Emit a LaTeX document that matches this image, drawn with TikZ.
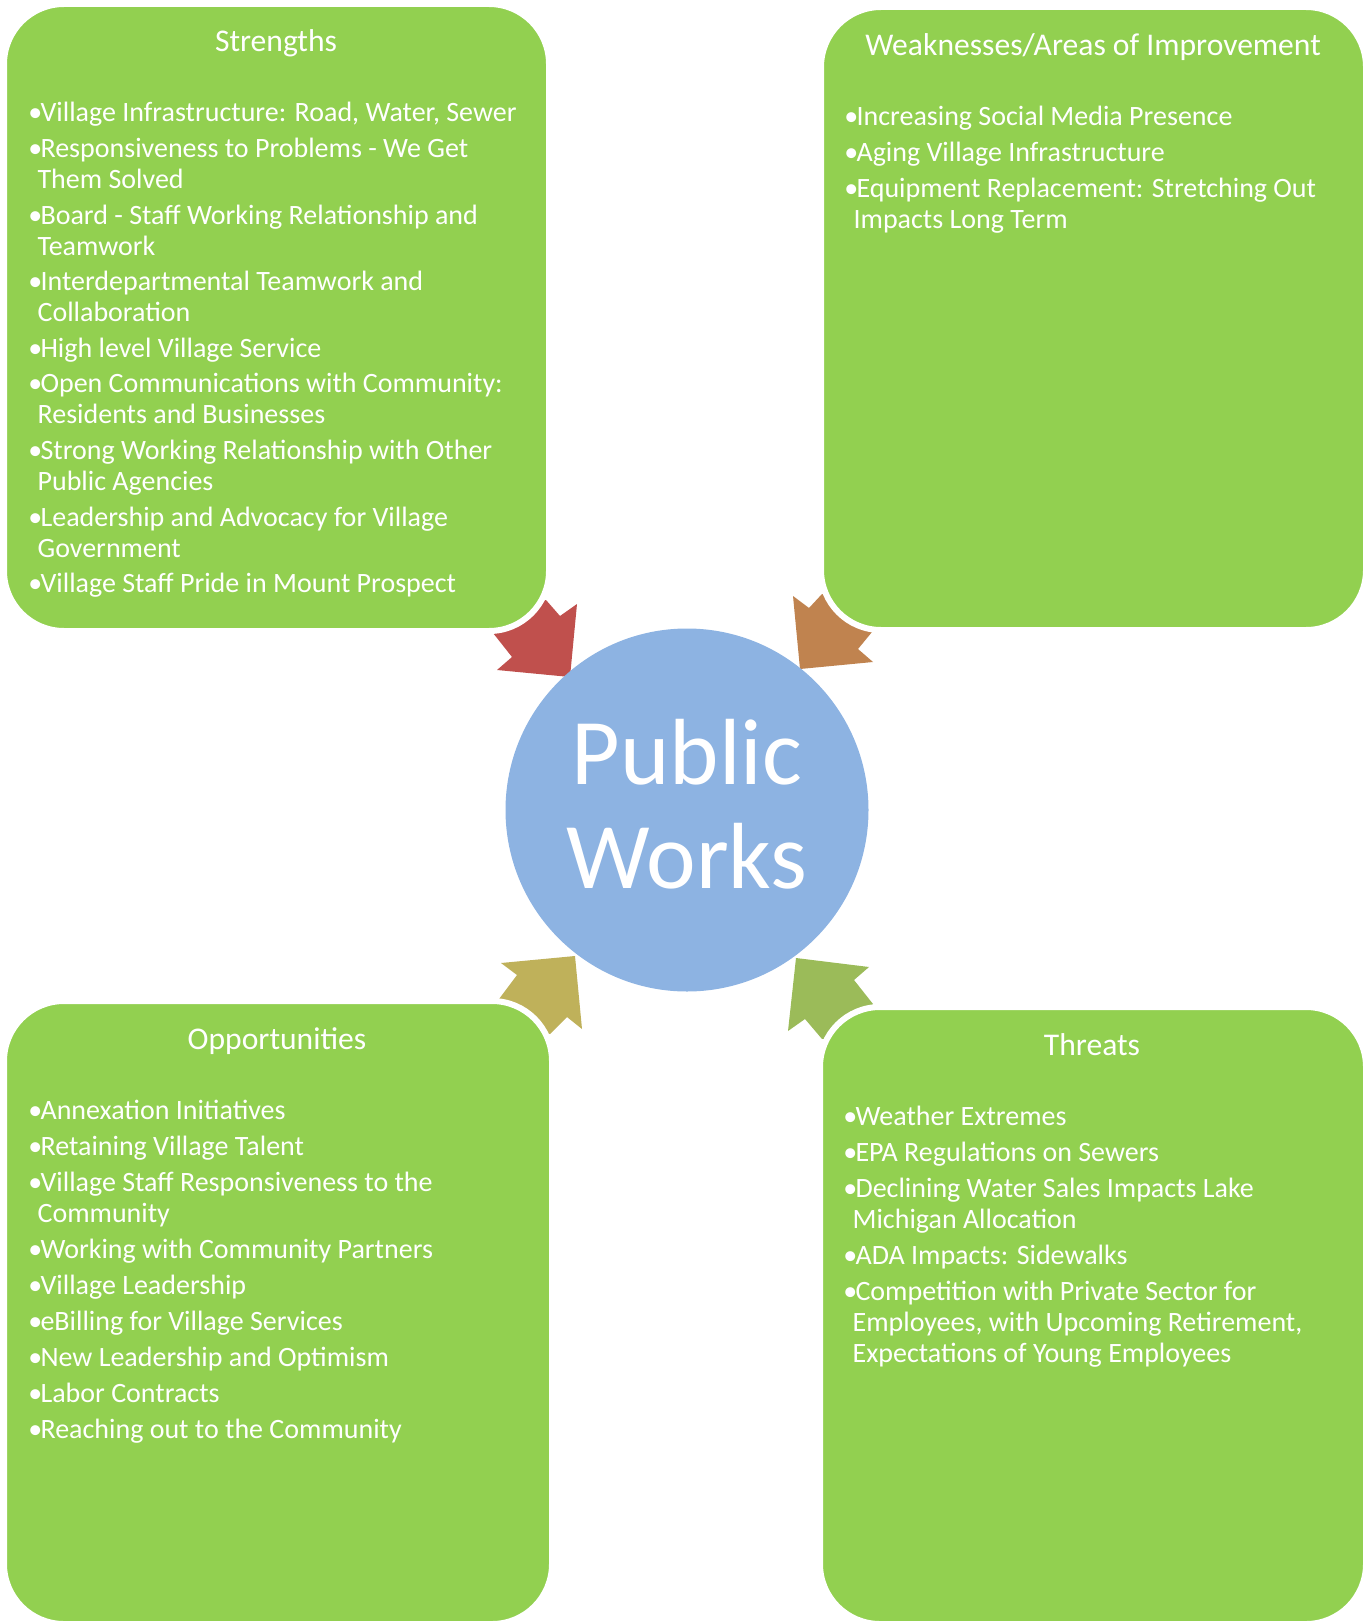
\documentclass[tikz,border=0pt]{standalone}
\usepackage{fontspec}
\setmainfont{Carlito}

\definecolor{boxgreen}{HTML}{92D050}
\definecolor{hubblue}{HTML}{8DB3E2}
\definecolor{arrred}{HTML}{C0504D}
\definecolor{arrorange}{HTML}{C0834F}
\definecolor{arrgold}{HTML}{BFB15A}
\definecolor{arrgreen}{HTML}{9BBB59}

\newcommand{\bul}{\textbullet\kern-0.9pt}
\newcommand{\cont}{\hspace*{4.6pt}}

\tikzset{
  swotbox/.style={fill=boxgreen, draw=white, line width=3pt, rounded corners=30pt},
  boxtitle/.style={text=white, anchor=base, inner sep=0pt, font=\fontsize{15.8}{19}\selectfont},
  boxlist/.style={text=white, anchor=base west, inner sep=0pt, font=\fontsize{14}{15.5}\selectfont},
}

\begin{document}
\begin{tikzpicture}[x=0.5pt, y=-0.5pt]
  \useasboundingbox (0,0) rectangle (1366,1621);

  % arrows pointing at the hub
  \fill[arrred] (546,600) -- (560,616) -- (577,604) -- (570,677) -- (497,670) -- (512,657) -- (493,633) -- (515,605) -- cycle;
  \fill[arrorange] (793,596) -- (809,608) -- (822,594) -- (850,600) -- (872,632) -- (858,649) -- (873,662) -- (800,669) -- cycle;
  \fill[arrgold] (501,963) -- (575,956) -- (582,1029) -- (567,1017) -- (550,1034) -- (525,1030) -- (499,999) -- (517,975) -- cycle;
  \fill[arrgreen] (796,958) -- (869,967) -- (854,980) -- (873,1004) -- (850,1035) -- (822,1039) -- (805,1019) -- (788,1031) -- cycle;

  % the four boxes
  \draw[swotbox] (4,4) rectangle (549,631);
  \draw[swotbox] (821,7) rectangle (1366,630);
  \draw[swotbox] (4,1001) rectangle (552,1624);
  \draw[swotbox] (820,1007) rectangle (1366,1624);

  % hub
  \node[circle, fill=hubblue, minimum size=181.5pt, inner sep=0pt] (pw) at (687,810) {};
  \node[text=white, align=center, inner sep=0pt, font=\fontsize{47}{52}\selectfont] (pwtext) at (687,804) {Public\\Works};

  % titles
  \node[boxtitle] (stitle) at (276,52) {Strengths};
  \node[boxtitle] (wtitle) at (1093,56) {Weaknesses/Areas of Improvement};
  \node[boxtitle] (otitle) at (277,1049) {Opportunities};
  \node[boxtitle] (ttitle) at (1092,1055) {Threats};

  % lists
  \node[boxlist] (slist) at (28,122) {\parbox[t]{280pt}{%
    \bul Village Infrastructure: Road, Water, Sewer\\[2.3pt]
    \bul Responsiveness to Problems - We Get\\
    \cont Them Solved\\[2.3pt]
    \bul Board - Staff Working Relationship and\\
    \cont Teamwork\\[2.3pt]
    \bul Interdepartmental Teamwork and\\
    \cont Collaboration\\[2.3pt]
    \bul High level Village Service\\[2.3pt]
    \bul Open Communications with Community:\\
    \cont Residents and Businesses\\[2.3pt]
    \bul Strong Working Relationship with Other\\
    \cont Public Agencies\\[2.3pt]
    \bul Leadership and Advocacy for Village\\
    \cont Government\\[2.3pt]
    \bul Village Staff Pride in Mount Prospect}};

  \node[boxlist] (wlist) at (844,126) {\parbox[t]{280pt}{%
    \bul Increasing Social Media Presence\\[2.5pt]
    \bul Aging Village Infrastructure\\[2.5pt]
    \bul Equipment Replacement: Stretching Out\\
    \cont Impacts Long Term}};

  \node[boxlist] (olist) at (28,1119) {\parbox[t]{280pt}{%
    \bul Annexation Initiatives\\[2.5pt]
    \bul Retaining Village Talent\\[2.5pt]
    \bul Village Staff Responsiveness to the\\
    \cont Community\\[2.5pt]
    \bul Working with Community Partners\\[2.5pt]
    \bul Village Leadership\\[2.5pt]
    \bul eBilling for Village Services\\[2.5pt]
    \bul New Leadership and Optimism\\[2.5pt]
    \bul Labor Contracts\\[2.5pt]
    \bul Reaching out to the Community}};

  \node[boxlist] (tlist) at (843,1125) {\parbox[t]{280pt}{%
    \bul Weather Extremes\\[2.5pt]
    \bul EPA Regulations on Sewers\\[2.5pt]
    \bul Declining Water Sales Impacts Lake\\
    \cont Michigan Allocation\\[2.5pt]
    \bul ADA Impacts: Sidewalks\\[2.5pt]
    \bul Competition with Private Sector for\\
    \cont Employees, with Upcoming Retirement,\\
    \cont Expectations of Young Employees}};
\end{tikzpicture}
\end{document}
